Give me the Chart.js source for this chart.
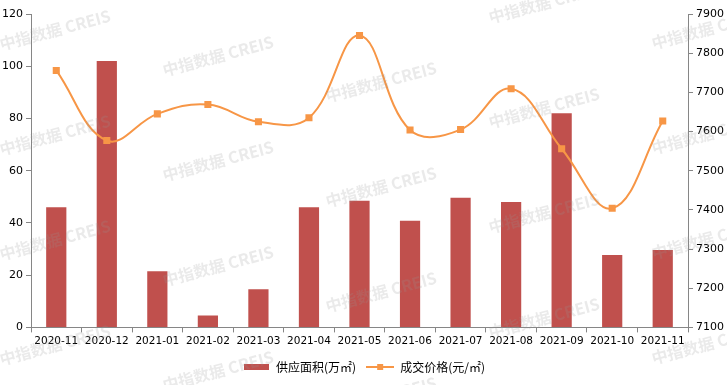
<!DOCTYPE html>
<html lang="zh-CN">
<head>
  <meta charset="UTF-8">
  <title>供应面积与成交价格</title>
  <script src="https://cdn.jsdelivr.net/npm/chart.js"></script>
  <style>
    html, body { margin: 0; padding: 0; background: #fff; }
    #wrap { width: 727px; height: 385px; }
  </style>
</head>
<body>
  <div id="wrap"><canvas id="chart" width="727" height="385"></canvas></div>

  <script>
    // months on the x axis
    const months = ['2020-11', '2020-12', '2021-01', '2021-02', '2021-03', '2021-04', '2021-05',
                    '2021-06', '2021-07', '2021-08', '2021-09', '2021-10', '2021-11'];
    // supply area (万㎡), left axis
    const supplyArea = [46, 102, 21.5, 4.6, 14.6, 46, 48.5, 40.8, 49.6, 48, 82, 27.7, 29.6];
    // deal price (元/㎡), right axis
    const dealPrice = [7756, 7577, 7645, 7669, 7625, 7635, 7845, 7604, 7605, 7709, 7556, 7404, 7627];

    const barLabel = '供应面积(万㎡)';
    const lineLabel = '成交价格(元/㎡)';
    const barColor = '#C0504D';
    const lineColor = '#F79646';
    const axisColor = '#868686';

    // small legend swatches: a flat bar and a line with a square marker
    const barSwatch = document.createElement('canvas');
    barSwatch.width = 25; barSwatch.height = 6;
    let c = barSwatch.getContext('2d');
    c.fillStyle = barColor;
    c.fillRect(0, 0, 25, 6);

    const lineSwatch = document.createElement('canvas');
    lineSwatch.width = 28; lineSwatch.height = 8;
    c = lineSwatch.getContext('2d');
    c.fillStyle = lineColor;
    c.fillRect(0, 3, 28, 2);
    c.fillRect(11, 1, 6, 6);

    // faint "中指数据 CREIS" watermark drawn over the chart
    const watermark = {
      id: 'watermark',
      afterDraw(chart) {
        const ctx = chart.ctx;
        ctx.save();
        ctx.font = 'bold 16px "Noto Sans CJK SC", "DejaVu Sans", sans-serif';
        ctx.fillStyle = 'rgba(150,150,150,0.2)';
        ctx.textAlign = 'center';
        ctx.textBaseline = 'middle';
        for (let i = 0; i < 5; i++) {
          for (let j = -1; j < 5; j++) {
            const x = 55 + i * 163;
            const y = 30 + i * 26 + j * 105;
            ctx.save();
            ctx.translate(x, y);
            ctx.rotate(-0.26);
            ctx.fillText('中指数据 CREIS', 0, 0);
            ctx.restore();
          }
        }
        ctx.restore();
      }
    };

    const tickFont = { family: '"DejaVu Sans", sans-serif', size: 11 };

    new Chart(document.getElementById('chart'), {
      type: 'bar',
      data: {
        labels: months,
        datasets: [
          {
            type: 'line',
            label: lineLabel,
            data: dealPrice,
            yAxisID: 'y1',
            borderColor: lineColor,
            backgroundColor: lineColor,
            borderWidth: 2,
            tension: 0.4,
            pointStyle: 'rect',
            pointRadius: 5,
            pointHoverRadius: 5,
            pointBackgroundColor: lineColor,
            pointBorderWidth: 0,
            order: 0
          },
          {
            type: 'bar',
            label: barLabel,
            data: supplyArea,
            yAxisID: 'y',
            backgroundColor: barColor,
            categoryPercentage: 1,
            barPercentage: 0.4,
            order: 1
          }
        ]
      },
      options: {
        responsive: false,
        animation: false,
        layout: { padding: { top: 14, left: 0, right: 0, bottom: 2 } },
        plugins: {
          tooltip: { enabled: false },
          legend: {
            position: 'bottom',
            labels: {
              usePointStyle: true,
              pointStyleWidth: 28,
              padding: 10,
              color: '#000',
              font: { family: '"Noto Sans CJK SC", sans-serif', size: 12 },
              generateLabels(chart) {
                return [
                  { text: barLabel, pointStyle: barSwatch, datasetIndex: 1, fontColor: '#000', lineWidth: 0 },
                  { text: lineLabel, pointStyle: lineSwatch, datasetIndex: 0, fontColor: '#000', lineWidth: 0 }
                ];
              }
            }
          }
        },
        scales: {
          x: {
            offset: true,
            grid: { offset: true, drawOnChartArea: false, drawTicks: true, tickLength: 5, color: axisColor },
            border: { color: axisColor },
            ticks: { color: '#000', font: { family: '"DejaVu Sans", sans-serif', size: 10.5 }, maxRotation: 0, autoSkip: false, padding: 3 }
          },
          y: {
            position: 'left',
            min: 0, max: 120,
            ticks: { stepSize: 20, color: '#000', font: tickFont, padding: 3 },
            grid: { drawOnChartArea: false, tickLength: 5, color: axisColor },
            border: { color: axisColor },
            afterFit(scale) { scale.width = 31; }
          },
          y1: {
            position: 'right',
            min: 7100, max: 7900,
            ticks: { stepSize: 100, color: '#000', font: tickFont, padding: 3, callback: v => String(v) },
            grid: { drawOnChartArea: false, tickLength: 5, color: axisColor },
            border: { color: axisColor },
            afterFit(scale) { scale.width = 39; }
          }
        }
      },
      plugins: [watermark]
    });
  </script>
</body>
</html>
